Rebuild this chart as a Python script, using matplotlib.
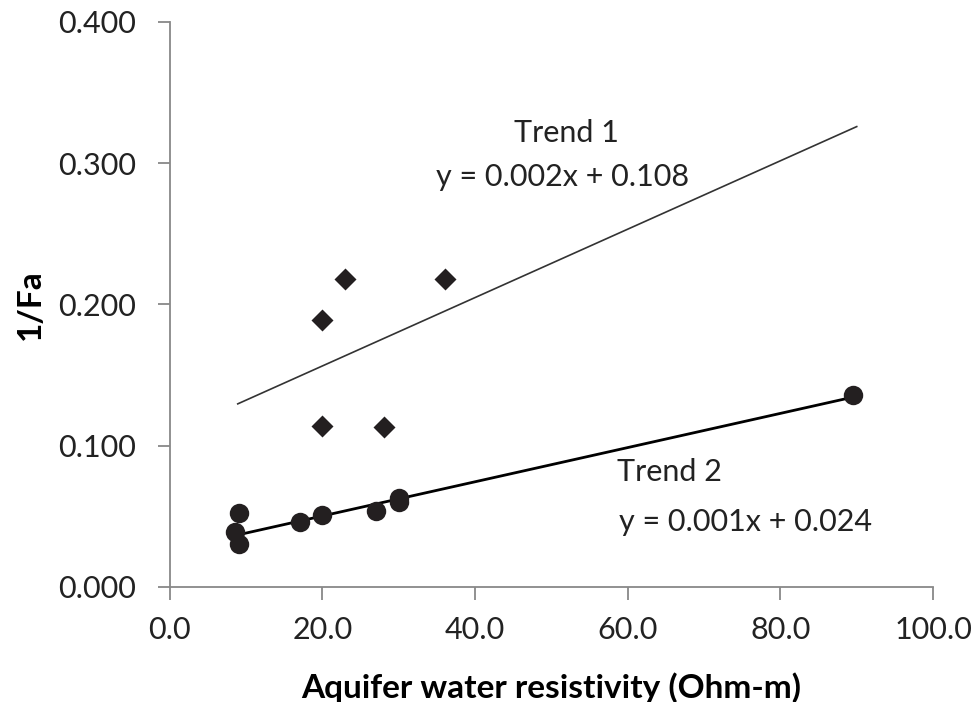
import matplotlib
matplotlib.use('Agg')
import matplotlib.pyplot as plt
import numpy as np

plt.rcParams['font.family'] = ['Lato', 'DejaVu Sans']

# diamonds (trend 1)
x_trend1 = [20, 23, 36, 20, 28]
y_trend1 = [0.189, 0.218, 0.218, 0.114, 0.113]

# circles (trend 2)
x_trend2 = [9, 8.6, 9, 17, 20, 27, 30, 30, 89.5]
y_trend2 = [0.052, 0.039, 0.030, 0.046, 0.051, 0.054, 0.063, 0.060, 0.136]

# trend lines as drawn: slope, intercept, x range
trend1_fit = (0.00242, 0.108)
trend1_span = [8.9, 90]
trend2_fit = (0.00121, 0.026)
trend2_span = [8.9, 89.5]

x_ticks = [0, 20, 40, 60, 80, 100]
y_ticks = [0.0, 0.1, 0.2, 0.3, 0.4]

fig = plt.figure(figsize=(9.76, 7.02), dpi=100)
ax = fig.add_axes([0.174, 0.164, 0.782, 0.805])

xs1 = np.array(trend1_span)
ax.plot(xs1, trend1_fit[0] * xs1 + trend1_fit[1], color='#333333', lw=1.2, zorder=2)
xs2 = np.array(trend2_span)
ax.plot(xs2, trend2_fit[0] * xs2 + trend2_fit[1], color='black', lw=2.0, zorder=2)

ax.plot(x_trend1, y_trend1, 'D', color='#231f20', ms=11, mec='none', zorder=3)
ax.plot(x_trend2, y_trend2, 'o', color='#231f20', ms=14, mec='none', zorder=3)

fs = 22
ax.text(52.0, 0.321, 'Trend 1', fontsize=fs, ha='center', va='center', color='#222222')
ax.text(51.5, 0.290, 'y = 0.002x + 0.108', fontsize=fs, ha='center', va='center', color='#222222')
ax.text(65.5, 0.081, 'Trend 2', fontsize=fs, ha='center', va='center', color='#222222')
ax.text(75.4, 0.046, 'y = 0.001x + 0.024', fontsize=fs, ha='center', va='center', color='#222222')

ax.set_xlim(0, 100)
ax.set_ylim(0, 0.4)
ax.set_xticks(x_ticks)
ax.set_xticklabels(['%.1f' % v for v in x_ticks])
ax.set_yticks(y_ticks)
ax.set_yticklabels(['%.3f' % v for v in y_ticks])

for s in ['top', 'right']:
    ax.spines[s].set_visible(False)
for s in ['left', 'bottom']:
    ax.spines[s].set_color('#888888')
    ax.spines[s].set_linewidth(1.3)
ax.tick_params(axis='both', direction='out', length=9, width=1.3, color='#888888',
               labelsize=fs, labelcolor='#222222')
ax.tick_params(axis='y', pad=15)
ax.tick_params(axis='x', pad=12)

ax.set_xlabel('Aquifer water resistivity (Ohm-m)', fontsize=24, fontweight='bold', labelpad=20)
ax.set_ylabel('1/Fa', fontsize=24, fontweight='bold', labelpad=10)

fig.savefig('out.png', dpi=100)
